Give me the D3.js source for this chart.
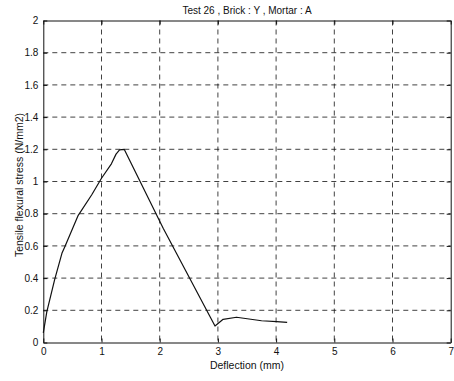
<!DOCTYPE html>
<html>
<head>
<meta charset="utf-8">
<script src="https://cdn.jsdelivr.net/npm/d3@7"></script>
<style>
  html, body { margin: 0; padding: 0; background: #fff; }
  svg { display: block; }
  text { font-family: "Liberation Sans", Arial, Helvetica, sans-serif; fill: #111; }
</style>
</head>
<body>
<svg id="chart" width="454" height="381"></svg>
<script>
// Load-deflection record for test 26
const deflection = [0, 0.06, 0.195, 0.32, 0.37, 0.6, 0.83, 1.0, 1.17, 1.25, 1.31, 1.39, 2.06, 2.95, 3.09, 3.32, 3.75, 4.01, 4.19];
const stress     = [0.06, 0.19, 0.39, 0.554, 0.595, 0.79, 0.916, 1.02, 1.11, 1.17, 1.197, 1.2, 0.71, 0.102, 0.144, 0.157, 0.135, 0.13, 0.125];

const xTicks = [0, 1, 2, 3, 4, 5, 6, 7];
const yTicks = [0, 0.2, 0.4, 0.6, 0.8, 1, 1.2, 1.4, 1.6, 1.8, 2];

const titleText = "Test 26 , Brick : Y , Mortar : A";
const xLabel = "Deflection (mm)";
const yLabel = "Tensile flexural stress (N/mm2)";

const svg = d3.select("#chart");
const plotLeft = 43.3, plotRight = 450.7, plotTop = 20.5, plotBottom = 342.5;

const x = d3.scaleLinear().domain([0, 7]).range([plotLeft, plotRight]);
const y = d3.scaleLinear().domain([0, 2]).range([plotBottom, plotTop]);

const ink = "#111";

// dashed grid
const grid = svg.append("g").attr("stroke", ink).attr("stroke-width", 0.8)
  .attr("stroke-dasharray", "5,4");
grid.selectAll("line.v").data(xTicks.slice(1, -1)).join("line").attr("class", "v")
  .attr("x1", d => x(d)).attr("x2", d => x(d))
  .attr("y1", plotTop).attr("y2", plotBottom);
grid.selectAll("line.h").data(yTicks.slice(1, -1)).join("line").attr("class", "h")
  .attr("y1", d => y(d)).attr("y2", d => y(d))
  .attr("x1", plotLeft).attr("x2", plotRight);

// axes with inward ticks
const fmt = d => d3.format("~g")(d);
const axB = svg.append("g").attr("transform", `translate(0,${plotBottom})`)
  .call(d3.axisBottom(x).tickValues(xTicks).tickFormat(fmt).tickSizeInner(-4).tickSizeOuter(0).tickPadding(5));
const axT = svg.append("g").attr("transform", `translate(0,${plotTop})`)
  .call(d3.axisTop(x).tickValues(xTicks).tickFormat("").tickSizeInner(-4).tickSizeOuter(0));
const axL = svg.append("g").attr("transform", `translate(${plotLeft},0)`)
  .call(d3.axisLeft(y).tickValues(yTicks).tickFormat(fmt).tickSizeInner(-4).tickSizeOuter(0).tickPadding(5));
const axR = svg.append("g").attr("transform", `translate(${plotRight},0)`)
  .call(d3.axisRight(y).tickValues(yTicks).tickFormat("").tickSizeInner(-4).tickSizeOuter(0));

[axB, axT, axL, axR].forEach(a => {
  a.select(".domain").attr("stroke", ink).attr("stroke-width", 1);
  a.selectAll(".tick line").attr("stroke", ink);
  a.selectAll("text").attr("font-size", 10).attr("fill", ink)
    .style("font-family", "'Liberation Sans', Arial, sans-serif");
});

// data line
const line = d3.line().x((d, i) => x(deflection[i])).y((d, i) => y(stress[i]));
svg.append("path").datum(stress)
  .attr("d", line).attr("fill", "none").attr("stroke", ink).attr("stroke-width", 1.2)
  .attr("stroke-linejoin", "round");

// titles
svg.append("text").attr("x", 247).attr("y", 14).attr("text-anchor", "middle")
  .attr("font-size", 10).text(titleText);
svg.append("text").attr("x", 247).attr("y", 369).attr("text-anchor", "middle")
  .attr("font-size", 10.5).text(xLabel);
svg.append("text").attr("transform", `translate(23,185) rotate(-90)`)
  .attr("text-anchor", "middle").attr("font-size", 10.5).text(yLabel);
</script>
</body>
</html>
